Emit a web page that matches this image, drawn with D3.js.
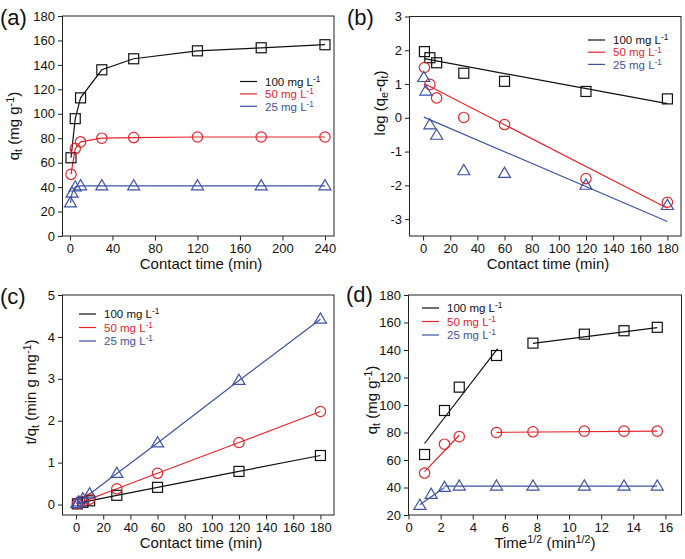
<!DOCTYPE html>
<html><head><meta charset="utf-8">
<script src="https://cdn.jsdelivr.net/npm/d3@7"></script>
<style>
body{margin:0;background:#fff;}
svg{display:block;font-family:"Liberation Sans",Arial,sans-serif;}
</style></head>
<body>
<svg id="c" width="685" height="559"></svg>
<script>
// ---------- data ----------
const seriesNames = ["100 mg L", "50 mg L", "25 mg L"];
const seriesColors = ["#111111", "#e3262b", "#3d52a3"];

// (a) kinetics
const timeHigh = [1, 5, 10, 30, 60, 120, 180, 240];           // 100 & 50 mg/L
const timeLow = [0.5, 2, 5, 10, 30, 60, 120, 180, 240];       // 25 mg/L
const qt100 = [64, 96, 113, 136, 145, 151.5, 154, 156.5];
const qt50 = [50.5, 71.5, 77, 80, 80.5, 81, 81, 81];
const qt25 = [27, 35, 40, 41, 41, 41, 41, 41, 41];

// (b) pseudo-first-order
const timeB = [1, 5, 10, 30, 60, 120, 180];
const timeBLow = [0.5, 2, 5, 10, 30, 60, 120, 180];
const logB100 = [1.96, 1.78, 1.63, 1.32, 1.08, 0.78, 0.56];
const logB50 = [1.49, 0.99, 0.59, 0.01, -0.2, -1.8, -2.5];
const logB25 = [1.19, 0.79, -0.21, -0.52, -1.57, -1.65, -2.0, -2.6];
const fitB100 = [[1, 1.75], [180, 0.42]];
const fitB50 = [[1.5, 1.0], [180, -2.68]];
const fitB25 = [[0.5, 0.02], [180, -3.07]];

// (c) pseudo-second-order
const tqC100 = [0.016, 0.052, 0.088, 0.22, 0.41, 0.79, 1.17];
const tqC50 = [0.02, 0.07, 0.13, 0.375, 0.745, 1.48, 2.22];
const tqC25 = [0.02, 0.06, 0.13, 0.25, 0.74, 1.47, 2.96, 4.42];

// (d) intraparticle diffusion
const sqrtTimeHigh = [1, 2.24, 3.16, 5.48, 7.75, 10.95, 13.42, 15.49];
const sqrtTimeLow = [0.71, 1.41, 2.24, 3.16, 5.48, 7.75, 10.95, 13.42, 15.49];
const fitD100 = [[[1, 72], [5.55, 141]], [[7.75, 144.8], [15.49, 156.3]]];
const fitD50 = [[[1, 51.5], [3.16, 78]], [[5.48, 80.1], [15.49, 81]]];
const fitD25 = [[[0.71, 27.5], [2.24, 40]], [[2.24, 41], [15.49, 41]]];

// tick specs
const ticksA_x = [0, 40, 80, 120, 160, 200, 240];
const ticksA_y = [0, 20, 40, 60, 80, 100, 120, 140, 160, 180];
const ticksB_x = [0, 20, 40, 60, 80, 100, 120, 140, 160, 180];
const ticksB_y = [-3, -2, -1, 0, 1, 2, 3];
const ticksC_y = [0, 1, 2, 3, 4, 5];
const ticksD_x = [0, 2, 4, 6, 8, 10, 12, 14, 16];
const ticksD_y = [20, 40, 60, 80, 100, 120, 140, 160, 180];

const zip = (xs, ys) => xs.map((x, i) => [x, ys[i]]);

const svg = d3.select("#c");

function rich(sel, parts) {
  parts.forEach(([t, m]) => {
    const ts = sel.append("tspan").text(t);
    if (m === "sub") ts.attr("font-size", "0.72em").attr("dy", "0.3em");
    else if (m === "sup") ts.attr("font-size", "0.72em").attr("dy", "-0.45em");
    else if (m === "reset-sub") ts.attr("dy", "-0.22em");
    else if (m === "reset-sup") ts.attr("dy", "0.32em");
  });
}

function marker(g, type, x, y, color) {
  if (type === "square") {
    g.append("rect").attr("x", x - 5).attr("y", y - 5).attr("width", 10).attr("height", 10)
      .attr("fill", "none").attr("stroke", color).attr("stroke-width", 1.2);
  } else if (type === "circle") {
    g.append("circle").attr("cx", x).attr("cy", y).attr("r", 5.2)
      .attr("fill", "none").attr("stroke", color).attr("stroke-width", 1.2);
  } else {
    g.append("path").attr("d", `M${x - 6},${y + 3.9}L${x + 6},${y + 3.9}L${x},${y - 6.3}Z`)
      .attr("fill", "none").attr("stroke", color).attr("stroke-width", 1.2);
  }
}

const fmt = d => String(d);

function panel(cfg) {
  const g = svg.append("g");
  const x = d3.scaleLinear().domain(cfg.xd).range([cfg.l, cfg.r]);
  const y = d3.scaleLinear().domain(cfg.yd).range([cfg.b, cfg.t]);
  g.append("rect").attr("x", cfg.l).attr("y", cfg.t).attr("width", cfg.r - cfg.l).attr("height", cfg.b - cfg.t)
    .attr("fill", "none").attr("stroke", "#222").attr("stroke-width", 1);
  const xMinor = d3.range(cfg.xMinor[0], cfg.xMinor[1] + 1e-9, cfg.xMinor[2]);
  const yMinor = d3.range(cfg.yMinor[0], cfg.yMinor[1] + 1e-9, cfg.yMinor[2]);
  const ax = g.append("g").attr("transform", `translate(0,${cfg.b})`);
  ax.call(d3.axisBottom(x).tickValues(xMinor).tickSize(2.5).tickFormat(""));
  ax.call(d3.axisBottom(x).tickValues(cfg.xt).tickSize(4.5).tickPadding(3).tickFormat(fmt));
  ax.select(".domain").remove();
  ax.selectAll("line").attr("stroke", "#222");
  ax.selectAll("text").attr("font-size", 13).attr("fill", "#111").attr("font-family", "Liberation Sans, Arial, sans-serif");
  const ay = g.append("g").attr("transform", `translate(${cfg.l},0)`);
  ay.call(d3.axisLeft(y).tickValues(yMinor).tickSize(2.5).tickFormat(""));
  ay.call(d3.axisLeft(y).tickValues(cfg.yt).tickSize(4.5).tickPadding(3).tickFormat(fmt));
  ay.select(".domain").remove();
  ay.selectAll("line").attr("stroke", "#222");
  ay.selectAll("text").attr("font-size", 13).attr("fill", "#111").attr("font-family", "Liberation Sans, Arial, sans-serif");

  const line = d3.line().x(d => x(d[0])).y(d => y(d[1]));
  const lg = g.append("g");
  cfg.lines.forEach(l => {
    lg.append("path").attr("d", line(l.pts)).attr("fill", "none").attr("stroke", l.color).attr("stroke-width", 1.2);
  });
  const mg = g.append("g");
  cfg.points.forEach(s => {
    s.pts.forEach(p => marker(mg, s.type, x(p[0]), y(p[1]), s.color));
  });

  const xt = g.append("text").attr("x", cfg.xtx).attr("y", cfg.b + 33).attr("text-anchor", "middle")
    .attr("font-size", 15).attr("fill", "#111");
  rich(xt, cfg.xTitle);
  const yt = g.append("text").attr("transform", `translate(${cfg.ytx},${cfg.yty}) rotate(-90)`)
    .attr("text-anchor", "middle").attr("font-size", 15).attr("fill", "#111");
  rich(yt, cfg.yTitle);
  g.append("text").attr("x", cfg.lx).attr("y", cfg.ly).attr("font-size", 22).attr("fill", "#111").text(cfg.label);
  seriesNames.forEach((n, i) => {
    const yy = cfg.legY + i * cfg.legDy;
    g.append("line").attr("x1", cfg.legX).attr("x2", cfg.legX + 17).attr("y1", yy).attr("y2", yy)
      .attr("stroke", seriesColors[i]).attr("stroke-width", 1.2);
    const t = g.append("text").attr("x", cfg.legX + 25).attr("y", yy + 4.2).attr("font-size", 11.5).attr("fill", seriesColors[i]);
    rich(t, [[n, null], ["-1", "sup"]]);
  });
}

const TYPES = ["square", "circle", "triangle"];
const qTitle = [["q", null], ["t", "sub"], [" (mg g", "reset-sub"], ["-1", "sup"], [")", "reset-sup"]];
const ctTitle = [["Contact time (min)", null]];

// (a)
panel({
  l: 62.5, r: 334, t: 16, b: 236, xd: [-7, 248.5], yd: [0, 180],
  xt: ticksA_x, yt: ticksA_y, xMinor: [0, 240, 20], yMinor: [0, 180, 10],
  lines: [
    { pts: zip(timeHigh, qt100), color: seriesColors[0] },
    { pts: zip(timeHigh, qt50), color: seriesColors[1] },
    { pts: zip(timeLow, qt25), color: seriesColors[2] }],
  points: [
    { pts: zip(timeHigh, qt100), color: seriesColors[0], type: TYPES[0] },
    { pts: zip(timeHigh, qt50), color: seriesColors[1], type: TYPES[1] },
    { pts: zip(timeLow, qt25), color: seriesColors[2], type: TYPES[2] }],
  xTitle: ctTitle, yTitle: qTitle, xtx: 201, ytx: 19, yty: 126,
  label: "(a)", lx: 0, ly: 25, legX: 240, legY: 81.5, legDy: 12.4
});

// (b)
panel({
  l: 409.5, r: 681, t: 16.5, b: 236, xd: [-10, 190], yd: [-3.5, 3],
  xt: ticksB_x, yt: ticksB_y, xMinor: [-10, 190, 10], yMinor: [-3.5, 3, 0.5],
  lines: [
    { pts: fitB100, color: seriesColors[0] },
    { pts: fitB50, color: seriesColors[1] },
    { pts: fitB25, color: seriesColors[2] }],
  points: [
    { pts: zip(timeB, logB100), color: seriesColors[0], type: TYPES[0] },
    { pts: zip(timeB, logB50), color: seriesColors[1], type: TYPES[1] },
    { pts: zip(timeBLow, logB25), color: seriesColors[2], type: TYPES[2] }],
  xTitle: ctTitle,
  yTitle: [["log (q", null], ["e", "sub"], ["-q", "reset-sub"], ["t", "sub"], [")", "reset-sub"]],
  xtx: 548, ytx: 385, yty: 103,
  label: "(b)", lx: 347, ly: 25, legX: 588, legY: 40, legDy: 12.2
});

// (c)
panel({
  l: 62.5, r: 334, t: 295, b: 515, xd: [-10, 190], yd: [-0.25, 5],
  xt: ticksB_x, yt: ticksC_y, xMinor: [-10, 190, 10], yMinor: [0, 5, 0.5],
  lines: [
    { pts: zip(timeB, tqC100), color: seriesColors[0] },
    { pts: zip(timeB, tqC50), color: seriesColors[1] },
    { pts: zip(timeBLow, tqC25), color: seriesColors[2] }],
  points: [
    { pts: zip(timeB, tqC100), color: seriesColors[0], type: TYPES[0] },
    { pts: zip(timeB, tqC50), color: seriesColors[1], type: TYPES[1] },
    { pts: zip(timeBLow, tqC25), color: seriesColors[2], type: TYPES[2] }],
  xTitle: ctTitle,
  yTitle: [["t/q", null], ["t", "sub"], [" (min g mg", "reset-sub"], ["-1", "sup"], [")", "reset-sup"]],
  xtx: 201, ytx: 36, yty: 392,
  label: "(c)", lx: 0, ly: 304, legX: 79, legY: 314, legDy: 13.5
});

// (d)
panel({
  l: 408.5, r: 681.5, t: 295, b: 515, xd: [0, 17], yd: [20, 180],
  xt: ticksD_x, yt: ticksD_y, xMinor: [0, 17, 1], yMinor: [20, 180, 10],
  lines: [
    ...fitD100.map(p => ({ pts: p, color: seriesColors[0] })),
    ...fitD50.map(p => ({ pts: p, color: seriesColors[1] })),
    ...fitD25.map(p => ({ pts: p, color: seriesColors[2] }))],
  points: [
    { pts: zip(sqrtTimeHigh, qt100), color: seriesColors[0], type: TYPES[0] },
    { pts: zip(sqrtTimeHigh, qt50), color: seriesColors[1], type: TYPES[1] },
    { pts: zip(sqrtTimeLow, qt25), color: seriesColors[2], type: TYPES[2] }],
  xTitle: [["Time", null], ["1/2", "sup"], [" (min", "reset-sup"], ["1/2", "sup"], [")", "reset-sup"]],
  yTitle: qTitle, xtx: 545, ytx: 377, yty: 400,
  label: "(d)", lx: 346, ly: 302, legX: 422, legY: 308, legDy: 13.5
});
</script>
</body></html>
